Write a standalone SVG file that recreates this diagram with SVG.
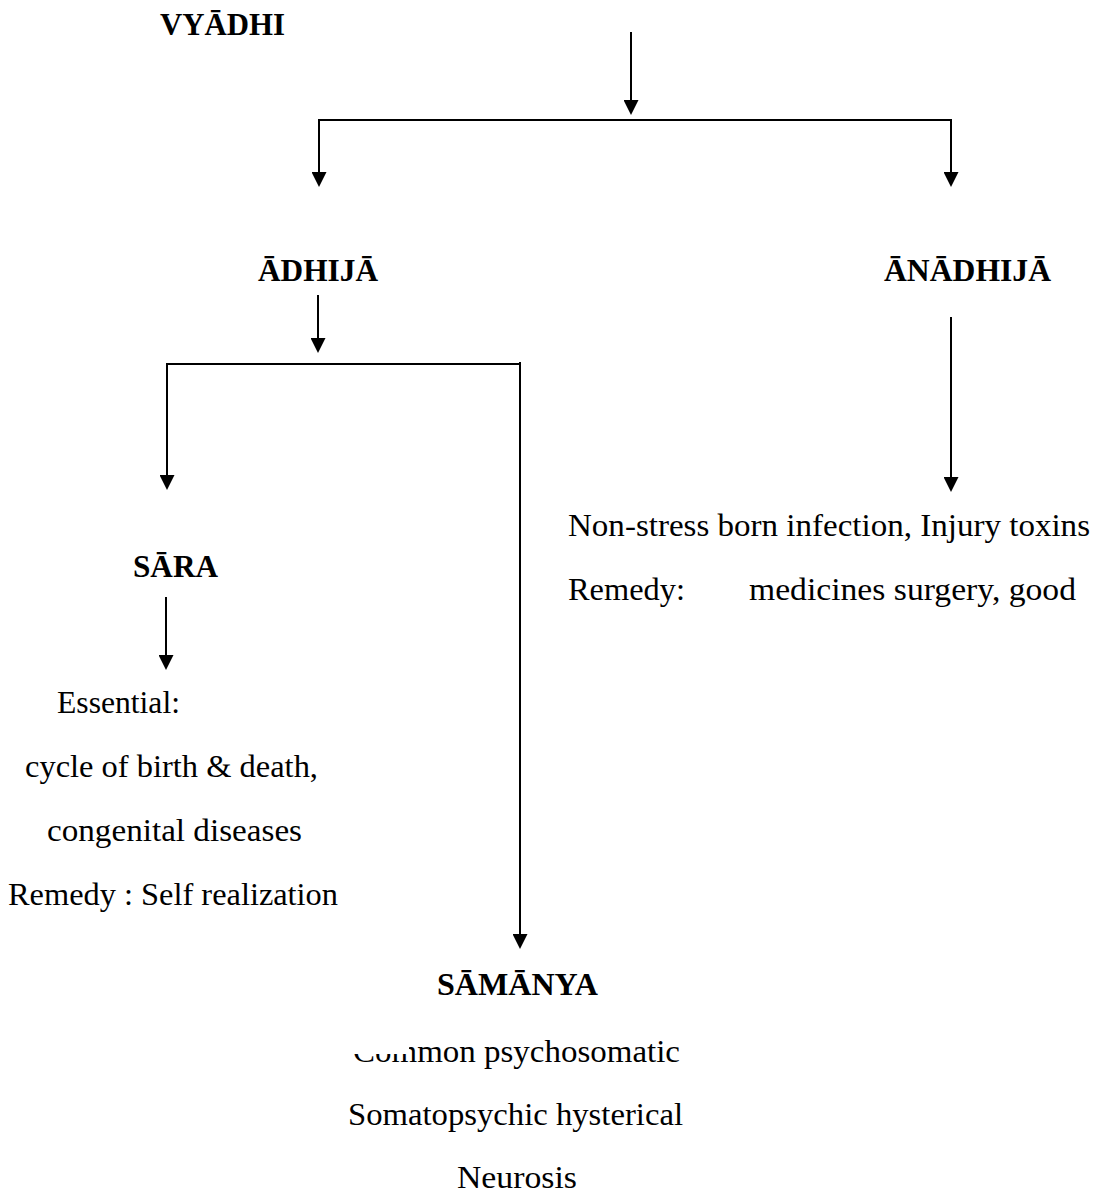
<svg xmlns="http://www.w3.org/2000/svg" width="1099" height="1195" viewBox="0 0 1099 1195">
<style>
  text { font-family: "Liberation Serif", "Times New Roman", serif; font-size: 31px; fill: #000; }
  .h { font-weight: bold; }
  .c line { stroke: #000; stroke-width: 2; fill: none; }
</style>
<defs>
  <marker id="ah" markerUnits="userSpaceOnUse" viewBox="0 0 15 15" refX="0" refY="7.5" markerWidth="15" markerHeight="15" orient="auto">
    <path d="M0,0 L15,7.5 L0,15 Z" fill="#000"/>
  </marker>
</defs>
<rect width="1099" height="1195" fill="#fff"/>

<g class="c" id="connectors">
  <line x1="631" y1="32" x2="631" y2="100" marker-end="url(#ah)"/>
  <line x1="318" y1="120" x2="952" y2="120"/>
  <line x1="319" y1="119" x2="319" y2="172" marker-end="url(#ah)"/>
  <line x1="951" y1="119" x2="951" y2="172" marker-end="url(#ah)"/>
  <line x1="318" y1="295" x2="318" y2="338" marker-end="url(#ah)"/>
  <line x1="166" y1="364" x2="521" y2="364"/>
  <line x1="167" y1="363" x2="167" y2="475" marker-end="url(#ah)"/>
  <line x1="520" y1="362" x2="520" y2="934" marker-end="url(#ah)"/>
  <line x1="951" y1="317" x2="951" y2="477" marker-end="url(#ah)"/>
  <line x1="166" y1="597" x2="166" y2="655" marker-end="url(#ah)"/>
</g>

<g id="vyadhi"><text class="h" x="160" y="35" textLength="125" lengthAdjust="spacingAndGlyphs">VYĀDHI</text></g>
<g id="adhija"><text class="h" x="258" y="281" textLength="120" lengthAdjust="spacingAndGlyphs">ĀDHIJĀ</text></g>
<g id="anadhija"><text class="h" x="884" y="281" textLength="167" lengthAdjust="spacingAndGlyphs">ĀNĀDHIJĀ</text></g>
<g id="anadhija-desc">
  <text x="568" y="536" textLength="522" lengthAdjust="spacingAndGlyphs">Non-stress born infection, Injury toxins</text>
  <text x="568" y="600" textLength="117" lengthAdjust="spacingAndGlyphs">Remedy:</text>
  <text x="749" y="600" textLength="327" lengthAdjust="spacingAndGlyphs">medicines surgery, good</text>
</g>
<g id="sara"><text class="h" x="133" y="577" textLength="85" lengthAdjust="spacingAndGlyphs">SĀRA</text></g>
<g id="sara-desc">
  <text x="57" y="713" textLength="123" lengthAdjust="spacingAndGlyphs">Essential:</text>
  <text x="25" y="777" textLength="293" lengthAdjust="spacingAndGlyphs">cycle of birth &amp; death,</text>
  <text x="47" y="841" textLength="255" lengthAdjust="spacingAndGlyphs">congenital diseases</text>
  <text x="8" y="905" textLength="330" lengthAdjust="spacingAndGlyphs">Remedy : Self realization</text>
</g>
<g id="samanya"><text class="h" x="437" y="995" textLength="161" lengthAdjust="spacingAndGlyphs">SĀMĀNYA</text></g>
<g id="samanya-desc">
  <text x="353" y="1062" textLength="327" lengthAdjust="spacingAndGlyphs">Common psychosomatic</text>
  <rect x="345" y="1030" width="64" height="24" fill="#fff"/>
  <text x="348" y="1125" textLength="335" lengthAdjust="spacingAndGlyphs">Somatopsychic hysterical</text>
  <text x="457" y="1188" textLength="120" lengthAdjust="spacingAndGlyphs">Neurosis</text>
</g>
</svg>
